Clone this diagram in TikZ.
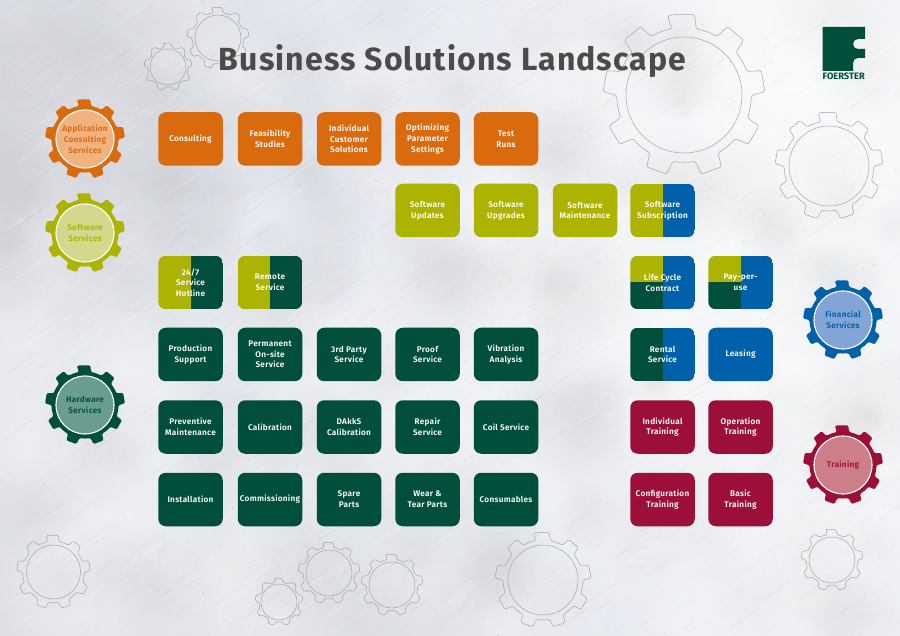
\documentclass[tikz,border=0pt]{standalone}
\usepackage{fontspec}
\setmainfont{Fira Sans}
\newfontfamily\boxfont[LetterSpace=3.5]{Fira Sans SemiBold}
\newfontfamily\titlefont[LetterSpace=3.5]{Fira Sans Bold}
\usetikzlibrary{fadings}
\tikzfading[name=softdisc,inner color=transparent!0,outer color=transparent!100]
\definecolor{corange}{HTML}{D96A0E}
\definecolor{colive}{HTML}{ACB300}
\definecolor{cgreen}{HTML}{004F3D}
\definecolor{cblue}{HTML}{0060A9}
\definecolor{ccrim}{HTML}{9C0F38}
\definecolor{lorange}{HTML}{F0B27F}
\definecolor{lolive}{HTML}{D3D88C}
\definecolor{lgreen}{HTML}{6B9C92}
\definecolor{lblue}{HTML}{82A5D6}
\definecolor{lcrim}{HTML}{CC7F88}
\definecolor{bgbase}{HTML}{E6E9F0}
\definecolor{gearline}{HTML}{A2A6AD}
\definecolor{titlegray}{HTML}{4B4B4B}
\newcommand{\gearpath}[2]{%
  ({-90-14*(#2/#1)}:#1)
  \foreach \k in {0,...,8}{
    -- ({-90+\k*40-7.5}:#1) -- ({-90+\k*40+7.5}:#1) -- ({-90+\k*40+10.5}:#2)
    arc[start angle={-90+\k*40+10.5},end angle={-90+\k*40+29.5},radius=#2]
  } -- cycle}
\newcommand{\solidgear}[6]{%
  \begin{scope}[shift={(#2,#3)}]
    \fill[#4,rounded corners=1.2pt] \gearpath{40}{33.5};
  \end{scope}
  \node[gearhub,fill=#5,text=#4] (#1) at (#2,#3) {#6};}
\newcommand{\linegear}[4]{%
  \begin{scope}[shift={(#1,#2)}]
    \draw[gearout,rounded corners=1.5pt] \gearpath{#3}{#3*0.83};
    \draw[gearout] (0,0) circle[radius=#4];
  \end{scope}}
\tikzset{
  x=1pt,y=-1pt,
  svcbox/.style={rounded corners=7.5pt,minimum width=64.5pt,minimum height=53.5pt,
    inner sep=0pt,align=center,text=white,font=\boxfont\fontsize{8.2}{10.7}\selectfont},
  gearhub/.style={circle,draw=white,line width=1.1pt,minimum size=58pt,inner sep=0pt,
    align=center,font=\boxfont\fontsize{8.2}{10.8}\selectfont},
  gearout/.style={draw=gearline,line width=0.5pt},
  twotone/.style 2 args={svcbox,path picture={
    \fill[#1,sharp corners] (path picture bounding box.north west) rectangle (path picture bounding box.south);
    \fill[#2,sharp corners] (path picture bounding box.north) rectangle (path picture bounding box.south east);}},
  threetone/.style n args={3}{svcbox,path picture={
    \fill[#1,sharp corners] (path picture bounding box.north west) rectangle (path picture bounding box.center);
    \fill[#2,sharp corners] (path picture bounding box.west) rectangle (path picture bounding box.south);
    \fill[#3,sharp corners] (path picture bounding box.north) rectangle (path picture bounding box.south east);}},
  blob/.style={path fading=softdisc},
}
\begin{document}
\begin{tikzpicture}
\useasboundingbox (0,0) rectangle (900,636);
\begin{scope}
\clip (0,0) rectangle (900,636);
\fill[bgbase] (0,0) rectangle (900,636);
% soft light and dark patches of the concrete backdrop
\foreach \x/\y/\r/\c/\o in {
  0/210/260/gray/.16, 90/50/240/gray/.14, 0/620/220/gray/.14, 330/650/260/gray/.12,
  800/60/380/white/.80, 860/300/340/white/.50, 840/560/260/white/.40,
  620/330/340/white/.45, 170/570/240/white/.35, 30/340/180/white/.35}{
  \fill[\c,opacity=\o,blob] (\x,\y) circle[radius=\r];
}
\pgfmathsetseed{4217}
% cloudy mottling
\foreach \i in {1,...,150}{
  \pgfmathsetmacro{\xa}{rnd*900}\pgfmathsetmacro{\ya}{rnd*636}\pgfmathsetmacro{\rr}{30+rnd*70}
  \pgfmathsetmacro{\oo}{.08+rnd*.18}
  \fill[white,opacity=\oo,blob] (\xa,\ya) circle[radius=\rr];
  \pgfmathsetmacro{\xa}{rnd*900}\pgfmathsetmacro{\ya}{rnd*636}\pgfmathsetmacro{\rr}{20+rnd*50}
  \pgfmathsetmacro{\oo}{.03+rnd*.05}
  \fill[gray,opacity=\oo,blob] (\xa,\ya) circle[radius=\rr];
}
% scratches and speckles
\foreach \i in {1,...,700}{
  \pgfmathsetmacro{\xa}{rnd*900}\pgfmathsetmacro{\ya}{rnd*636}\pgfmathsetmacro{\len}{12+rnd*50}
  \pgfmathsetmacro{\oo}{.10+rnd*.25}
  \draw[white,opacity=\oo,line width=.7pt] (\xa,\ya) -- ++(.82*\len,-.57*\len);
}
\foreach \i in {1,...,450}{
  \pgfmathsetmacro{\xa}{rnd*900}\pgfmathsetmacro{\ya}{rnd*636}\pgfmathsetmacro{\len}{8+rnd*30}
  \pgfmathsetmacro{\oo}{.03+rnd*.08}
  \draw[gray,opacity=\oo,line width=.6pt] (\xa,\ya) -- ++(.82*\len,-.57*\len);
}
\foreach \i in {1,...,400}{
  \pgfmathsetmacro{\xa}{rnd*900}\pgfmathsetmacro{\ya}{rnd*636}\pgfmathsetmacro{\rr}{.25+rnd*.5}
  \pgfmathsetmacro{\oo}{.08+rnd*.25}
  \fill[black!60,opacity=\oo] (\xa,\ya) circle[radius=\rr];
}
\end{scope}
% outline gears
\linegear{684}{95}{81}{58}
\linegear{829}{166}{54}{40}
\linegear{218}{38}{31}{23}
\linegear{168}{67}{24}{18}
\linegear{53.5}{572}{37}{27}
\linegear{279}{602}{24}{18}
\linegear{329}{573}{31}{23}
\linegear{392}{585}{31}{23}
\linegear{543}{580}{48}{35}
\linegear{832}{560}{31}{23}
% title
\node[text=titlegray,font=\titlefont\fontsize{32}{32}\selectfont,anchor=base] (title) at (452.5,70.5) {Business Solutions Landscape};
% logo
\fill[cgreen] (822.5,27) -- (865,27) -- (865,39) -- (858,39)
  arc[start angle=-90,end angle=-270,radius=5] -- (865,49) -- (865,58) -- (858,58)
  arc[start angle=-90,end angle=-180,radius=5] -- (853,71) -- (822.5,71) -- cycle;
\node[text=cgreen,font=\fontspec{Fira Sans Bold}\fontsize{9.3}{9}\selectfont,anchor=base] (logo) at (843.7,80) {FOERSTER};
% service gears
\solidgear{gapp}{85}{139}{corange}{lorange}{Application\\Consulting\\Services}
\solidgear{gsoft}{85}{233}{colive}{lolive}{Software\\Services}
\solidgear{ghard}{85}{405}{cgreen}{lgreen}{Hardware\\Services}
\solidgear{gfin}{843}{320}{cblue}{lblue}{Financial\\Services}
\solidgear{gtrain}{843}{465}{ccrim}{lcrim}{Training}
% row 1
\node[svcbox,fill=corange] (consulting) at (190.5,139) {Consulting};
\node[svcbox,fill=corange] (feasibility) at (270,139) {Feasibility\\Studies};
\node[svcbox,fill=corange] (individual) at (349,139) {Individual\\Customer\\Solutions};
\node[svcbox,fill=corange] (optimizing) at (427.5,139) {Optimizing\\Parameter\\Settings};
\node[svcbox,fill=corange] (test) at (506,139) {Test\\Runs};
% row 2
\node[svcbox,fill=colive] (updates) at (427.5,210.5) {Software\\Updates};
\node[svcbox,fill=colive] (upgrades) at (506,210.5) {Software\\Upgrades};
\node[svcbox,fill=colive] (maintenance) at (585,210.5) {Software\\Maintenance};
\node[twotone={colive}{cblue}] (subscription) at (662.5,210.5) {Software\\Subscription};
% row 3
\node[twotone={colive}{cgreen}] (hotline) at (190.5,282.5) {24/7\\Service\\Hotline};
\node[twotone={colive}{cgreen}] (remote) at (270,282.5) {Remote\\Service};
\node[threetone={colive}{cgreen}{cblue}] (lifecycle) at (662.5,282.5) {Life Cycle\\Contract};
\node[threetone={colive}{cgreen}{cblue}] (payperuse) at (740.5,282.5) {Pay-per-\\use};
% row 4
\node[svcbox,fill=cgreen] (production) at (190.5,354.5) {Production\\Support};
\node[svcbox,fill=cgreen] (permanent) at (270,354.5) {Permanent\\On-site\\Service};
\node[svcbox,fill=cgreen] (third) at (349,354.5) {3rd Party\\Service};
\node[svcbox,fill=cgreen] (proof) at (427.5,354.5) {Proof\\Service};
\node[svcbox,fill=cgreen] (vibration) at (506,354.5) {Vibration\\Analysis};
\node[twotone={cgreen}{cblue}] (rental) at (662.5,354.5) {Rental\\Service};
\node[svcbox,fill=cblue] (leasing) at (740.5,354.5) {Leasing};
% row 5
\node[svcbox,fill=cgreen] (preventive) at (190.5,427) {Preventive\\Maintenance};
\node[svcbox,fill=cgreen] (calibration) at (270,427) {Calibration};
\node[svcbox,fill=cgreen] (dakks) at (349,427) {DAkkS\\Calibration};
\node[svcbox,fill=cgreen] (repair) at (427.5,427) {Repair\\Service};
\node[svcbox,fill=cgreen] (coil) at (506,427) {Coil Service};
\node[svcbox,fill=ccrim] (indtrain) at (662.5,427) {Individual\\Training};
\node[svcbox,fill=ccrim] (optrain) at (740.5,427) {Operation\\Training};
% row 6
\node[svcbox,fill=cgreen] (installation) at (190.5,499.5) {Installation};
\node[svcbox,fill=cgreen] (commissioning) at (270,499.5) {Commissioning};
\node[svcbox,fill=cgreen] (spare) at (349,499.5) {Spare\\Parts};
\node[svcbox,fill=cgreen] (wear) at (427.5,499.5) {Wear \&\\Tear Parts};
\node[svcbox,fill=cgreen] (consumables) at (506,499.5) {Consumables};
\node[svcbox,fill=ccrim] (config) at (662.5,499.5) {Configuration\\Training};
\node[svcbox,fill=ccrim] (basic) at (740.5,499.5) {Basic\\Training};
\end{tikzpicture}
\end{document}
